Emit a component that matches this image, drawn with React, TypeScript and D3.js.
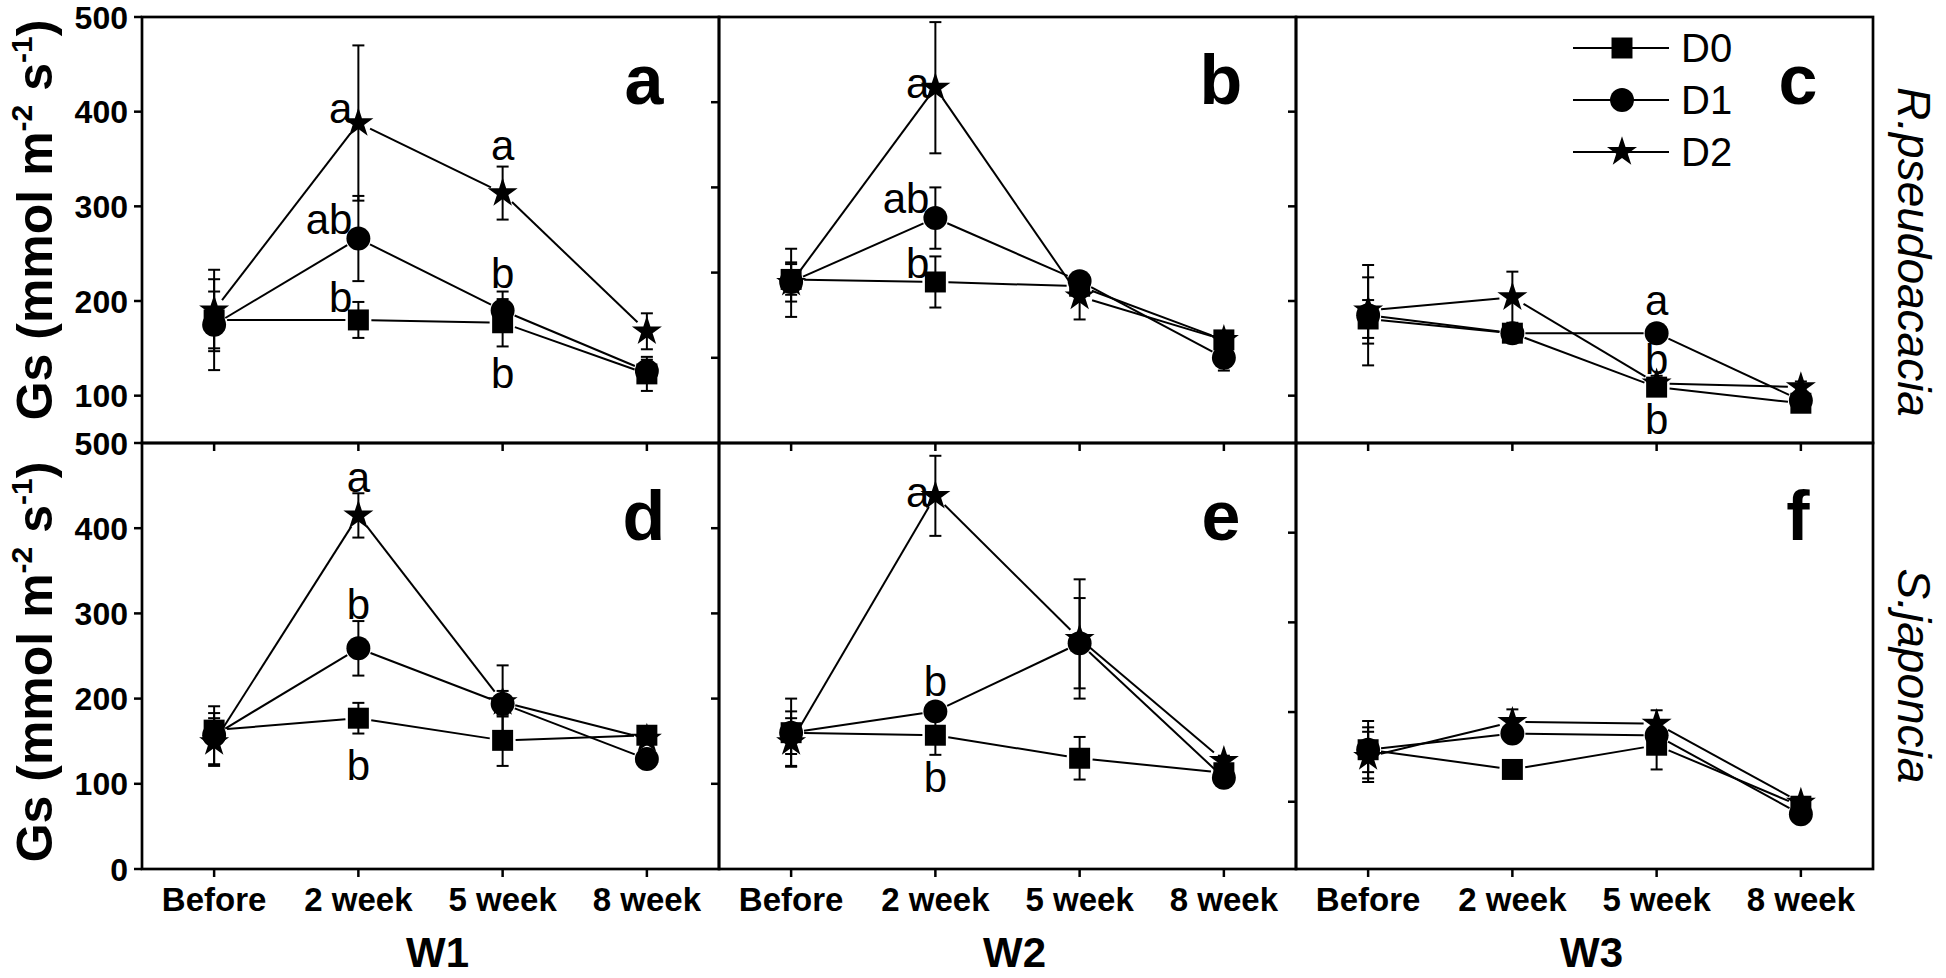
import React from "react";
import * as d3 from "d3";

// ---------- data ----------
const categories = ["Before", "2 week", "5 week", "8 week"];
const seriesNames = ["D0", "D1", "D2"];
const panelIds = ["a", "b", "c", "d", "e", "f"];
const groupLabels = ["W1", "W2", "W3"];
const speciesLabels = ["R.pseudoacacia", "S.japoncia"];

// each panel has its own y range (ticks only labelled on the left column)
const yDomains = [
  [50, 500],
  [0, 500],
  [50, 500],
  [0, 500],
  [0, 500],
  [25, 500],
];
const yTicksTopLabelled = [100, 200, 300, 400, 500];
const yTicksBottomLabelled = [0, 100, 200, 300, 400, 500];
const yTicksPlain = [100, 200, 300, 400];

// means [D0, D1, D2] x categories
const meanA = [[180, 180, 177, 123], [175, 266, 190, 126], [190, 388, 314, 168]];
const errA = [[30, 19, 25, 18], [48, 45, 20, 12], [43, 82, 28, 19]];
const meanB = [[192, 189, 184, 121], [189, 264, 190, 100], [188, 417, 172, 121]];
const errB = [[18, 30, 10, 10], [23, 36, 10, 15], [40, 77, 27, 8]];
const meanC = [[181, 166, 109, 92], [185, 166, 166, 95], [190, 204, 113, 109]];
const errC = [[20, 8, 8, 6], [53, 8, 8, 6], [35, 27, 8, 6]];
const meanD = [[163, 177, 151, 157], [157, 259, 194, 129], [149, 415, 196, 153]];
const errD = [[20, 18, 30, 8], [34, 32, 15, 6], [28, 26, 43, 6]];
const meanE = [[160, 157, 130, 113], [160, 185, 265, 107], [149, 438, 270, 127]];
const errE = [[25, 23, 25, 6], [40, 10, 53, 6], [28, 47, 70, 6]];
const meanF = [[158, 136, 163, 95], [158, 176, 174, 86], [150, 189, 187, 99]];
const errF = [[25, 6, 27, 6], [32, 6, 8, 6], [28, 14, 15, 6]];

const means = [meanA, meanB, meanC, meanD, meanE, meanF];
const errs = [errA, errB, errC, errD, errE, errF];

// significance letters: [category index, text, value, side]
const lettersA = [[1, "a", 388, "left"], [1, "ab", 271, "left"], [1, "b", 188, "left"], [2, "a", 349, "center"], [2, "b", 214, "center"], [2, "b", 108, "center"]];
const lettersB = [[1, "a", 405, "left"], [1, "ab", 270, "left"], [1, "b", 194, "left"]];
const lettersC = [[2, "a", 185, "center"], [2, "b", 123, "center"], [2, "b", 60, "center"]];
const lettersD = [[1, "a", 443, "center"], [1, "b", 294, "center"], [1, "b", 104, "center"]];
const lettersE = [[1, "a", 425, "left"], [1, "b", 203, "center"], [1, "b", 90, "center"]];
const lettersF: any[] = [];
const letters = [lettersA, lettersB, lettersC, lettersD, lettersE, lettersF];

// ---------- layout ----------
const W = 1946;
const H = 978;
const PANEL_LEFTS = [142, 719, 1296];
const PANEL_W = 577;
const ROW_TOPS = [17, 443];
const ROW_H = 426;
const FONT = "'Liberation Sans', Arial, Helvetica, sans-serif";

const symbolTypes = [d3.symbolSquare, d3.symbolCircle, d3.symbolStar];
const symbolSizes = [440, 450, 280];

function markerPath(k: number) {
  return d3.symbol().type(symbolTypes[k]).size(symbolSizes[k])() as string;
}

function shorten(x1: number, y1: number, x2: number, y2: number, g: number) {
  const dx = x2 - x1;
  const dy = y2 - y1;
  const L = Math.hypot(dx, dy);
  if (L <= 2 * g) return null;
  const ux = dx / L;
  const uy = dy / L;
  return [x1 + ux * g, y1 + uy * g, x2 - ux * g, y2 - uy * g];
}

function Panel({ idx }: { idx: number }) {
  const row = Math.floor(idx / 3);
  const col = idx % 3;
  const left = PANEL_LEFTS[col];
  const top = ROW_TOPS[row];
  const bottom = top + ROW_H;
  const right = left + PANEL_W;
  const x = d3.scalePoint<string>().domain(categories).range([left, right]).padding(0.5);
  const y = d3.scaleLinear().domain(yDomains[idx]).range([bottom, top]);
  const m = means[idx];
  const e = errs[idx];
  const labelled = col === 0;
  const ticks = labelled ? (row === 0 ? yTicksTopLabelled : yTicksBottomLabelled) : yTicksPlain;

  const lines: JSX.Element[] = [];
  const bars: JSX.Element[] = [];
  const marks: JSX.Element[] = [];
  m.forEach((vals, s) => {
    for (let i = 0; i < vals.length - 1; i++) {
      const sg = shorten(x(categories[i])!, y(vals[i]), x(categories[i + 1])!, y(vals[i + 1]), 13);
      if (sg)
        lines.push(
          <line key={`l${s}-${i}`} x1={sg[0]} y1={sg[1]} x2={sg[2]} y2={sg[3]} stroke="#000" strokeWidth={2} />
        );
    }
    vals.forEach((v, i) => {
      const cx = x(categories[i])!;
      const lo = y(v - e[s][i]);
      const hi = y(v + e[s][i]);
      bars.push(
        <g key={`e${s}-${i}`} stroke="#000" strokeWidth={2}>
          <line x1={cx} x2={cx} y1={lo} y2={hi} />
          <line x1={cx - 6} x2={cx + 6} y1={lo} y2={lo} />
          <line x1={cx - 6} x2={cx + 6} y1={hi} y2={hi} />
        </g>
      );
      marks.push(
        <path key={`m${s}-${i}`} d={markerPath(s)} transform={`translate(${cx},${y(v)})`} fill="#000" />
      );
    });
  });

  return (
    <g>
      {/* frame */}
      <rect x={left} y={top} width={PANEL_W} height={ROW_H} fill="none" stroke="#000" strokeWidth={2.7} />
      {/* y ticks */}
      {ticks.map((t) => (
        <line key={`yt${t}`} x1={left - 8} x2={left} y1={y(t)} y2={y(t)} stroke="#000" strokeWidth={2.5} />
      ))}
      {labelled &&
        ticks.map((t) => (
          <text
            key={`ytl${t}`}
            x={left - 14}
            y={y(t)}
            dy="0.36em"
            textAnchor="end"
            fontFamily={FONT}
            fontWeight="bold"
            fontSize={32}
          >
            {t}
          </text>
        ))}
      {/* x ticks */}
      {categories.map((c) => (
        <line key={`xt${c}`} x1={x(c)} x2={x(c)} y1={bottom} y2={bottom + 8} stroke="#000" strokeWidth={2.5} />
      ))}
      {row === 1 &&
        categories.map((c) => (
          <text key={`xtl${c}`} x={x(c)} y={911} textAnchor="middle" fontFamily={FONT} fontWeight="bold" fontSize={33}>
            {c}
          </text>
        ))}
      {lines}
      {bars}
      {marks}
      {letters[idx].map((L: any, k: number) => {
        const cx = x(categories[L[0]])!;
        const isLeft = L[3] === "left";
        return (
          <text
            key={`lt${k}`}
            x={isLeft ? cx - 6 : cx}
            y={y(L[2])}
            textAnchor={isLeft ? "end" : "middle"}
            fontFamily={FONT}
            fontSize={42}
          >
            {L[1]}
          </text>
        );
      })}
      <text
        x={right - 75}
        y={top + (row === 0 ? 87 : 97)}
        textAnchor="middle"
        fontFamily={FONT}
        fontWeight="bold"
        fontSize={70}
      >
        {panelIds[idx]}
      </text>
    </g>
  );
}

function Legend() {
  const x0 = 1573;
  const x1 = 1669;
  const xm = 1622;
  const rowsY = [48, 100, 152];
  return (
    <g>
      {seriesNames.map((n, k) => (
        <g key={n}>
          <line x1={x0} x2={x1} y1={rowsY[k]} y2={rowsY[k]} stroke="#000" strokeWidth={2} />
          <path d={markerPath(k)} transform={`translate(${xm},${rowsY[k]})`} fill="#000" />
          <text x={1681} y={rowsY[k] + 14} fontFamily={FONT} fontSize={40}>
            {n}
          </text>
        </g>
      ))}
    </g>
  );
}

function YLabel({ cy }: { cy: number }) {
  return (
    <text
      transform={`translate(52,${cy}) rotate(-90)`}
      textAnchor="middle"
      fontFamily={FONT}
      fontWeight="bold"
      fontSize={50}
    >
      Gs (mmol m
      <tspan dy={-20} fontSize={30}>
        -2
      </tspan>
      <tspan dy={20}> s</tspan>
      <tspan dy={-20} fontSize={30}>
        -1
      </tspan>
      <tspan dy={20}>)</tspan>
    </text>
  );
}

export default function App() {
  return (
    <svg
      width={W}
      height={H}
      viewBox={`0 0 ${W} ${H}`}
      style={{ position: "absolute", left: 0, top: 0, background: "#fff" }}
    >
      <rect x={0} y={0} width={W} height={H} fill="#fff" />
      {panelIds.map((p, i) => (
        <Panel key={p} idx={i} />
      ))}
      <Legend />
      <YLabel cy={220} />
      <YLabel cy={662} />
      {groupLabels.map((g, k) => (
        <text
          key={g}
          x={PANEL_LEFTS[k] + PANEL_W / 2 + 7}
          y={967}
          textAnchor="middle"
          fontFamily={FONT}
          fontWeight="bold"
          fontSize={42}
        >
          {g}
        </text>
      ))}
      {speciesLabels.map((s, k) => (
        <text
          key={s}
          transform={`translate(1898,${k === 0 ? 252 : 676}) rotate(90)`}
          textAnchor="middle"
          fontFamily={FONT}
          fontStyle="italic"
          fontSize={46}
        >
          {s}
        </text>
      ))}
    </svg>
  );
}
